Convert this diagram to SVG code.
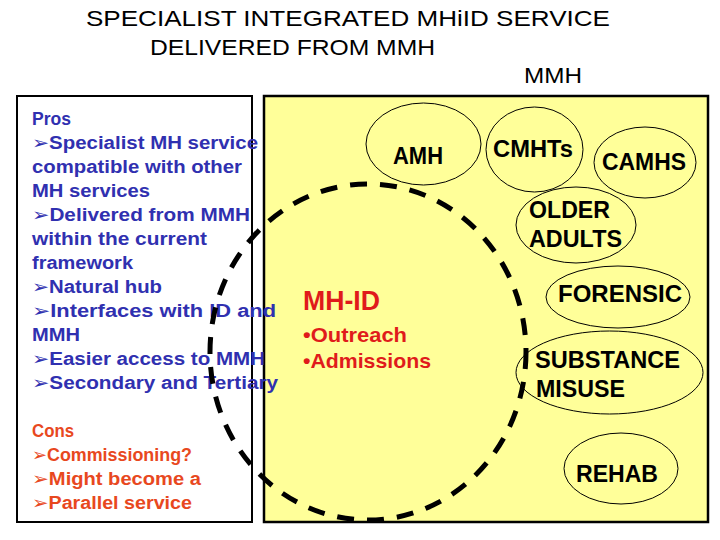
<svg xmlns="http://www.w3.org/2000/svg" width="720" height="540" viewBox="0 0 720 540">
<style>
.title{font-family:"Liberation Sans",Arial,sans-serif;font-size:22px;fill:#000}
.pros{font-family:"Liberation Sans","DejaVu Sans",sans-serif;font-size:18px;font-weight:bold;fill:#3030B0}
.cons{font-family:"Liberation Sans","DejaVu Sans",sans-serif;font-size:18px;font-weight:bold;fill:#E8481E}
.lbl{font-family:"Liberation Sans",Arial,sans-serif;font-size:23px;font-weight:bold;fill:#000}
.red{font-family:"Liberation Sans",Arial,sans-serif;font-weight:bold;fill:#E01B1B}
.svc{fill:none;stroke:#000;stroke-width:1}
</style>
<rect width="720" height="540" fill="#fff"/>
<g id="title">
<text class="title" x="86" y="26" textLength="524" lengthAdjust="spacingAndGlyphs">SPECIALIST INTEGRATED MHiID SERVICE</text>
<text class="title" x="150" y="55" textLength="285" lengthAdjust="spacingAndGlyphs">DELIVERED FROM MMH</text>
<text class="title" x="524" y="83" textLength="58" lengthAdjust="spacingAndGlyphs">MMH</text>
</g>
<g id="mmh-box">
<rect x="264" y="96" width="444" height="426" fill="#FFFF99" stroke="#000" stroke-width="2.5"/>
</g>
<g id="pros-cons-box">
<rect x="17" y="96" width="235" height="426" fill="#fff" stroke="#000" stroke-width="2"/>
<text class="pros" x="32" y="125" textLength="39" lengthAdjust="spacingAndGlyphs">Pros</text>
<text class="pros" x="32" y="149" textLength="226" lengthAdjust="spacingAndGlyphs">➢Specialist MH service</text>
<text class="pros" x="32" y="173" textLength="210" lengthAdjust="spacingAndGlyphs">compatible with other</text>
<text class="pros" x="32" y="197" textLength="118" lengthAdjust="spacingAndGlyphs">MH services</text>
<text class="pros" x="32" y="221" textLength="218" lengthAdjust="spacingAndGlyphs">➢Delivered from MMH</text>
<text class="pros" x="32" y="245" textLength="175" lengthAdjust="spacingAndGlyphs">within the current</text>
<text class="pros" x="32" y="269" textLength="101" lengthAdjust="spacingAndGlyphs">framework</text>
<text class="pros" x="32" y="293" textLength="130" lengthAdjust="spacingAndGlyphs">➢Natural hub</text>
<text class="pros" x="32" y="317" textLength="244" lengthAdjust="spacingAndGlyphs">➢Interfaces with ID and</text>
<text class="pros" x="32" y="341" textLength="48" lengthAdjust="spacingAndGlyphs">MMH</text>
<text class="pros" x="32" y="365" textLength="233" lengthAdjust="spacingAndGlyphs">➢Easier access to MMH</text>
<text class="pros" x="32" y="389" textLength="246" lengthAdjust="spacingAndGlyphs">➢Secondary and Tertiary</text>
<text class="cons" x="32" y="437" textLength="42" lengthAdjust="spacingAndGlyphs">Cons</text>
<text class="cons" x="32" y="461" textLength="160" lengthAdjust="spacingAndGlyphs">➢Commissioning?</text>
<text class="cons" x="32" y="485" textLength="169" lengthAdjust="spacingAndGlyphs">➢Might become a</text>
<text class="cons" x="32" y="509" textLength="160" lengthAdjust="spacingAndGlyphs">➢Parallel service</text>
</g>
<g id="mh-id">
<text class="red" x="303" y="310" font-size="28" textLength="77" lengthAdjust="spacingAndGlyphs">MH-ID</text>
<text class="red" x="303" y="342" font-size="21" textLength="104" lengthAdjust="spacingAndGlyphs">•Outreach</text>
<text class="red" x="303" y="368" font-size="21" textLength="128" lengthAdjust="spacingAndGlyphs">•Admissions</text>
</g>
<g id="amh">
<ellipse class="svc" cx="423.5" cy="144" rx="57.5" ry="41"/>
<text class="lbl" x="393" y="164" textLength="50" lengthAdjust="spacingAndGlyphs">AMH</text>
</g>
<g id="cmhts">
<ellipse class="svc" cx="534.5" cy="149.5" rx="48.5" ry="42.5"/>
<text class="lbl" x="493" y="157" textLength="80" lengthAdjust="spacingAndGlyphs">CMHTs</text>
</g>
<g id="camhs">
<ellipse class="svc" cx="645" cy="162.5" rx="51" ry="35.5"/>
<text class="lbl" x="602" y="170" textLength="84" lengthAdjust="spacingAndGlyphs">CAMHS</text>
</g>
<g id="older-adults">
<ellipse class="svc" cx="576" cy="225" rx="60" ry="38"/>
<text class="lbl" x="529" y="218" textLength="81" lengthAdjust="spacingAndGlyphs">OLDER</text>
<text class="lbl" x="529" y="247" textLength="93" lengthAdjust="spacingAndGlyphs">ADULTS</text>
</g>
<g id="forensic">
<ellipse class="svc" cx="618" cy="297" rx="72" ry="31"/>
<text class="lbl" x="558" y="302" textLength="124" lengthAdjust="spacingAndGlyphs">FORENSIC</text>
</g>
<g id="substance-misuse">
<ellipse class="svc" cx="609.5" cy="372.5" rx="93.5" ry="41.5"/>
<text class="lbl" x="535" y="368" textLength="145" lengthAdjust="spacingAndGlyphs">SUBSTANCE</text>
<text class="lbl" x="536" y="397" textLength="89" lengthAdjust="spacingAndGlyphs">MISUSE</text>
</g>
<g id="rehab">
<ellipse class="svc" cx="621" cy="468.5" rx="57" ry="35.5"/>
<text class="lbl" x="576" y="482" textLength="82" lengthAdjust="spacingAndGlyphs">REHAB</text>
</g>
<g id="connectors">
<ellipse id="mhid-boundary" cx="368" cy="352" rx="158" ry="168" fill="none" stroke="#000" stroke-width="5" stroke-dasharray="17 13"/>
</g>
</svg>
